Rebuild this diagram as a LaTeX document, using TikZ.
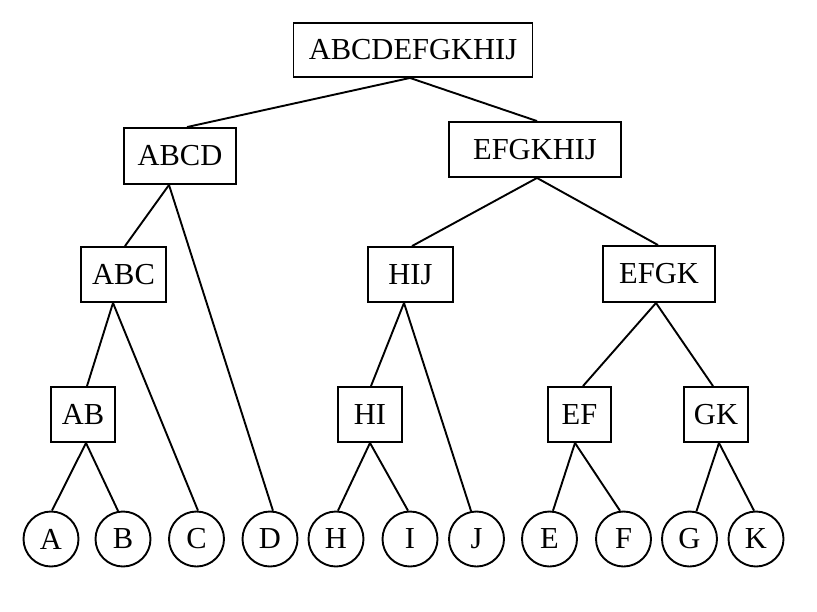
\documentclass[tikz,border=0pt]{standalone}
\usepackage{fontspec}
\setmainfont{Liberation Serif}
\begin{document}
\begin{tikzpicture}[x=1pt,y=-1pt,
  every node/.style={font=\fontsize{30.5}{36}\selectfont},
  setbox/.style={draw,line width=1.9pt,rectangle,inner sep=0pt,minimum height=55pt},
  leaf/.style={draw,line width=1.9pt,circle,inner sep=0pt,minimum size=55pt},
  edge/.style={line width=1.9pt}]
\useasboundingbox (0,0) rectangle (817,611);
% internal nodes
\node[setbox,minimum width=239pt,minimum height=54pt] (root) at (413,50) {ABCDEFGKHIJ};
\node[setbox,minimum width=112pt,minimum height=56pt] (abcd) at (180,156) {ABCD};
\node[setbox,minimum width=172pt] (efgkhij) at (535,149.5) {EFGKHIJ};
\node[setbox,minimum width=85pt] (abc) at (123.5,274.5) {ABC};
\node[setbox,minimum width=85pt] (hij) at (410.5,274.5) {HIJ};
\node[setbox,minimum width=112pt,minimum height=56pt] (efgk) at (659,274) {EFGK};
\node[setbox,minimum width=64pt] (ab) at (83,414.5) {AB};
\node[setbox,minimum width=64pt] (hi) at (370,414.5) {HI};
\node[setbox,minimum width=63pt] (ef) at (579.5,414.5) {EF};
\node[setbox,minimum width=64pt] (gk) at (716,414.5) {GK};
% leaves
\node[leaf] (a) at (51,539) {A};
\node[leaf] (b) at (123,539) {B};
\node[leaf] (c) at (196.5,539) {C};
\node[leaf] (d) at (270,539) {D};
\node[leaf] (h) at (336,539) {H};
\node[leaf] (i) at (410,539) {I};
\node[leaf] (j) at (476.5,539) {J};
\node[leaf] (e) at (549.5,539) {E};
\node[leaf] (f) at (623.5,539) {F};
\node[leaf] (g) at (689.5,539) {G};
\node[leaf] (k) at (756,539) {K};
% edges
\draw[edge] ([xshift=-3pt]root.south) -- ([xshift=7pt]abcd.north);
\draw[edge] ([xshift=-3pt]root.south) -- ([xshift=2pt]efgkhij.north);
\draw[edge] ([xshift=-11pt]abcd.south) -- ([xshift=1.5pt]abc.north);
\draw[edge] ([xshift=-11pt]abcd.south) -- (d.84);
\draw[edge] ([xshift=2pt]efgkhij.south) -- ([xshift=1.5pt]hij.north);
\draw[edge] ([xshift=2pt]efgkhij.south) -- ([xshift=-1pt]efgk.north);
\draw[edge] ([xshift=-10.5pt]abc.south) -- ([xshift=4pt]ab.north);
\draw[edge] ([xshift=-10.5pt]abc.south) -- (c.87);
\draw[edge] ([xshift=-6.5pt]hij.south) -- ([xshift=1pt]hi.north);
\draw[edge] ([xshift=-6.5pt]hij.south) -- (j.101.5);
\draw[edge] ([xshift=-3pt]efgk.south) -- ([xshift=3.5pt]ef.north);
\draw[edge] ([xshift=-3pt]efgk.south) -- ([xshift=-3pt]gk.north);
\draw[edge] ([xshift=3pt]ab.south) -- (a.88);
\draw[edge] ([xshift=3pt]ab.south) -- (b.100.5);
\draw[edge] (hi.south) -- (h.86);
\draw[edge] (hi.south) -- (i.94);
\draw[edge] ([xshift=-4.5pt]ef.south) -- (e.83);
\draw[edge] ([xshift=-4.5pt]ef.south) -- (f.97);
\draw[edge] ([xshift=3pt]gk.south) -- (g.76);
\draw[edge] ([xshift=3pt]gk.south) -- (k.94);
\end{tikzpicture}
\end{document}
